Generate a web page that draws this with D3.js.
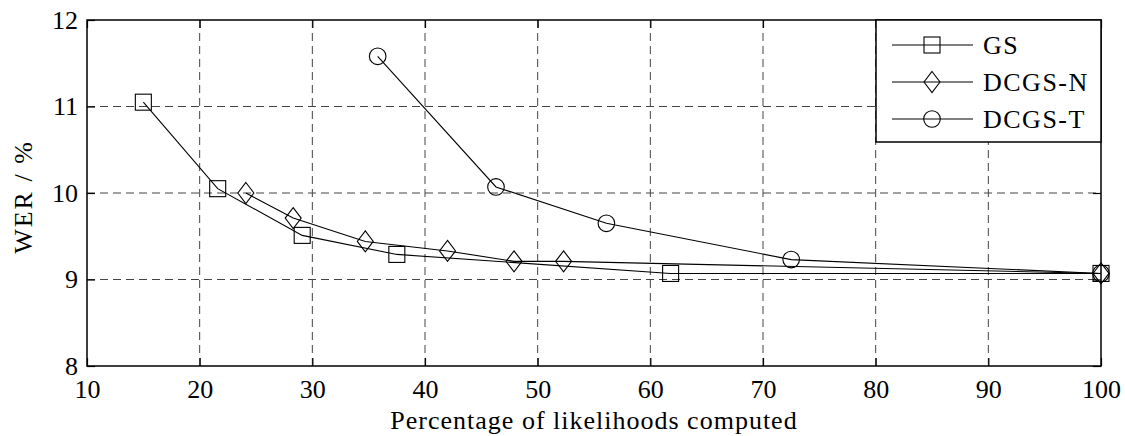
<!DOCTYPE html>
<html>
<head>
<meta charset="utf-8">
<script src="https://cdn.jsdelivr.net/npm/d3@7"></script>
<style>
  body { margin: 0; background: #fff; }
  svg { display: block; font-family: "Liberation Serif", "Times New Roman", serif; }
</style>
</head>
<body>
<svg id="chart" width="1125" height="436"></svg>
<script>
const width = 1125
const height = 436

// data
const gsX = [15.0, 21.6, 29.1, 37.5, 61.8, 100]
const gsY = [11.05, 10.05, 9.51, 9.29, 9.07, 9.07]
const dcgsNX = [24.1, 28.3, 34.7, 42.0, 47.9, 52.3, 100]
const dcgsNY = [10.0, 9.71, 9.44, 9.33, 9.21, 9.21, 9.07]
const dcgsTX = [35.8, 46.3, 56.1, 72.5, 100]
const dcgsTY = [11.58, 10.07, 9.65, 9.23, 9.07]

const xTicks = [10, 20, 30, 40, 50, 60, 70, 80, 90, 100]
const yTicks = [8, 9, 10, 11, 12]
const seriesNames = ['GS', 'DCGS-N', 'DCGS-T']
const markerKinds = ['square', 'diamond', 'circle']

const margin = {top: 20, right: 24, bottom: 70, left: 87}
const serif = '"Liberation Serif", "Times New Roman", serif'

const svg = d3.select('#chart')

const x = d3.scaleLinear().domain([10, 100]).range([margin.left, width - margin.right])
const y = d3.scaleLinear().domain([8, 12]).range([height - margin.bottom, margin.top])

const x0 = x.range()[0], x1 = x.range()[1]
const y0 = y.range()[0], y1 = y.range()[1]

// grid
svg.append('g')
    .selectAll('line')
    .data(xTicks.slice(1, -1))
    .join('line')
    .attr('x1', d => x(d)).attr('x2', d => x(d))
    .attr('y1', y0).attr('y2', y1)
    .attr('stroke', '#444')
    .attr('stroke-dasharray', '8,5');

svg.append('g')
    .selectAll('line')
    .data(yTicks.slice(1, -1))
    .join('line')
    .attr('x1', x0).attr('x2', x1)
    .attr('y1', d => y(d)).attr('y2', d => y(d))
    .attr('stroke', '#444')
    .attr('stroke-dasharray', '8,5');

// axes with inward ticks on all four sides
const tickLen = 8
const axisBottom = d3.axisBottom(x).tickValues(xTicks).tickFormat(d3.format('d'))
    .tickSizeInner(-tickLen).tickSizeOuter(0).tickPadding(14)
const axisLeft = d3.axisLeft(y).tickValues(yTicks).tickFormat(d3.format('d'))
    .tickSizeInner(-tickLen).tickSizeOuter(0).tickPadding(9)

svg.append('g').attr('transform', `translate(0,${y0})`).call(axisBottom)
svg.append('g').attr('transform', `translate(${x0},0)`).call(axisLeft)
svg.append('g').attr('transform', `translate(0,${y1})`)
    .call(d3.axisTop(x).tickValues(xTicks).tickSizeInner(-tickLen).tickSizeOuter(0).tickFormat(''))
svg.append('g').attr('transform', `translate(${x1},0)`)
    .call(d3.axisRight(y).tickValues(yTicks).tickSizeInner(-tickLen).tickSizeOuter(0).tickFormat(''))

svg.selectAll('.domain').remove()
svg.selectAll('.tick line').attr('stroke', '#000').attr('stroke-width', 1.2)
svg.selectAll('.tick text')
    .attr('fill', '#000')
    .style('font-size', '26px')
    .style('font-family', serif)

// box
svg.append('rect')
    .attr('x', x0).attr('y', y1)
    .attr('width', x1 - x0).attr('height', y0 - y1)
    .attr('fill', 'none')
    .attr('stroke', '#000')
    .attr('stroke-width', 1.5)

// marker drawing
function marker(g, kind) {
    if (kind === 'square') {
        g.append('rect').attr('x', -8).attr('y', -8).attr('width', 16).attr('height', 16)
    } else if (kind === 'diamond') {
        g.append('path').attr('d', 'M0,-10.5L8,0L0,10.5L-8,0Z')
    } else {
        g.append('circle').attr('r', 8.3)
    }
    g.selectAll('*').attr('fill', 'none').attr('stroke', '#000').attr('stroke-width', 1.1)
}

const series = [
    {name: seriesNames[0], xs: gsX, ys: gsY, kind: markerKinds[0]},
    {name: seriesNames[1], xs: dcgsNX, ys: dcgsNY, kind: markerKinds[1]},
    {name: seriesNames[2], xs: dcgsTX, ys: dcgsTY, kind: markerKinds[2]}
]

const line = d3.line().x(d => x(d[0])).y(d => y(d[1]))

series.forEach(s => {
    const pts = s.xs.map((v, i) => [v, s.ys[i]])
    svg.append('path')
        .attr('d', line(pts))
        .attr('fill', 'none')
        .attr('stroke', '#000')
        .attr('stroke-width', 1.1)
    pts.forEach(p => {
        const g = svg.append('g').attr('transform', `translate(${x(p[0])},${y(p[1])})`)
        marker(g, s.kind)
    })
})

// axis labels
svg.append('text')
    .attr('x', (x0 + x1) / 2)
    .attr('y', 429)
    .attr('text-anchor', 'middle')
    .style('font-size', '26px')
    .style('letter-spacing', '1px')
    .text('Percentage of likelihoods computed')

svg.append('text')
    .attr('transform', `translate(32,${(y0 + y1) / 2 + 4}) rotate(-90)`)
    .attr('text-anchor', 'middle')
    .style('font-size', '26px')
    .style('letter-spacing', '2px')
    .text('WER / %')

// legend
const legend = svg.append('g')
legend.append('rect')
    .attr('x', 876).attr('y', y1)
    .attr('width', x1 - 876).attr('height', 122)
    .attr('fill', '#fff')
    .attr('stroke', '#000')
    .attr('stroke-width', 1.5)

series.forEach((s, i) => {
    const ly = 45 + i * 37
    legend.append('line')
        .attr('x1', 892).attr('x2', 973)
        .attr('y1', ly).attr('y2', ly)
        .attr('stroke', '#000').attr('stroke-width', 1.1)
    marker(legend.append('g').attr('transform', `translate(932,${ly})`), s.kind)
    legend.append('text')
        .attr('x', 983).attr('y', ly + 9)
        .style('font-size', '26px')
        .style('letter-spacing', '1.5px')
        .text(s.name)
})
</script>
</body>
</html>
